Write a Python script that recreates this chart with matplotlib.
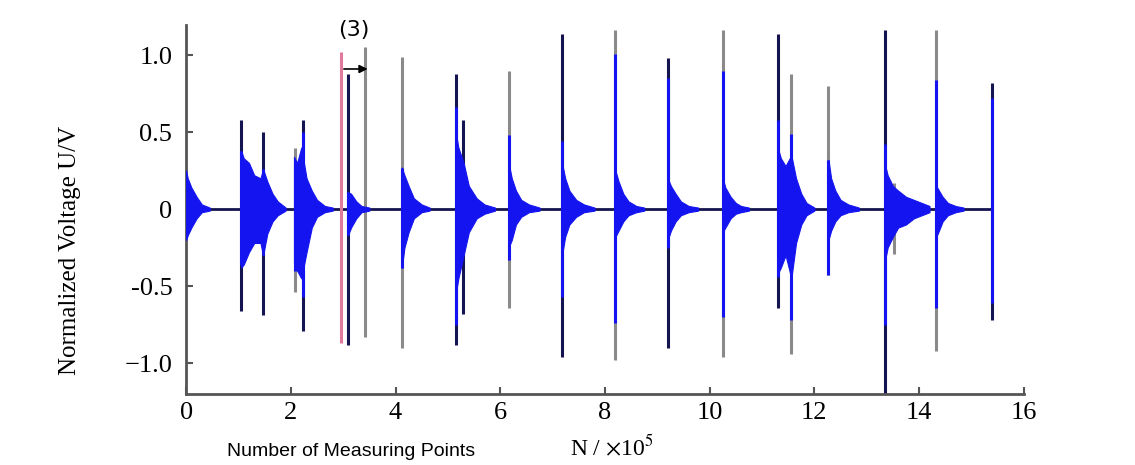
import matplotlib
matplotlib.use("Agg")
import matplotlib.pyplot as plt

matplotlib.rcParams['mathtext.fontset'] = 'stix'

# spikes: position (x1e5), outer trace extent + colour, inner blue trace extent
spike_x = [1.05, 1.47, 2.08, 2.23, 2.96, 3.09, 3.42, 4.12, 5.15, 5.29, 6.16, 7.18,
           8.20, 9.20, 10.25, 11.30, 11.56, 12.27, 13.34, 13.53, 14.33, 15.40]
spike_top = [0.58, 0.50, 0.40, 0.58, 1.02, 0.88, 1.05, 0.99, 0.88, 0.58, 0.90, 1.14,
             1.16, 0.98, 1.16, 1.14, 0.88, 0.80, 1.16, 0.17, 1.16, 0.82]
spike_bot = [-0.66, -0.69, -0.54, -0.79, -0.87, -0.88, -0.83, -0.90, -0.88, -0.68, -0.64, -0.96,
             -0.98, -0.90, -0.96, -0.64, -0.94, -0.43, -1.20, -0.29, -0.92, -0.72]
spike_kind = ['n', 'n', 'g', 'n', 'p', 'n', 'g', 'g', 'n', 'n', 'g', 'n',
              'g', 'n', 'g', 'n', 'g', 'g', 'n', 'g', 'g', 'n']
inner_top = [0.38, 0.26, 0.30, 0.50, 0.0, 0.11, 0.0, 0.27, 0.66, 0.30, 0.48, 0.44,
             1.01, 0.85, 0.90, 0.58, 0.49, 0.32, 0.42, 0.10, 0.84, 0.72]
inner_bot = [-0.36, -0.30, -0.40, -0.57, 0.0, -0.17, 0.0, -0.38, -0.75, -0.30, -0.33, -0.57,
             -0.74, -0.25, -0.70, -0.44, -0.72, -0.43, -0.75, -0.10, -0.64, -0.61]

# burst envelopes (decaying ringing after each hit)
blob_x = [
    [0.0, 0.03, 0.1, 0.2, 0.3, 0.45],
    [1.05, 1.1, 1.2, 1.3, 1.42, 1.47, 1.55, 1.65, 1.75, 1.9],
    [2.06, 2.12, 2.2, 2.3, 2.4, 2.5, 2.65, 2.8],
    [3.09, 3.15, 3.25, 3.35, 3.5],
    [4.12, 4.17, 4.25, 4.35, 4.5, 4.65],
    [5.15, 5.2, 5.3, 5.4, 5.55, 5.7, 5.9],
    [6.16, 6.22, 6.3, 6.4, 6.55, 6.75],
    [7.18, 7.24, 7.32, 7.45, 7.6, 7.8],
    [8.2, 8.26, 8.35, 8.45, 8.6, 8.75],
    [9.2, 9.26, 9.35, 9.45, 9.6, 9.78],
    [10.25, 10.3, 10.4, 10.5, 10.6, 10.75],
    [11.3, 11.36, 11.45, 11.56, 11.65, 11.75, 11.85, 12.0],
    [12.27, 12.32, 12.4, 12.5, 12.65, 12.85],
    [13.34, 13.4, 13.5, 13.6, 13.75, 13.9, 14.05, 14.2],
    [14.33, 14.38, 14.45, 14.55, 14.7, 14.85],
]
blob_up = [
    [0.25, 0.2, 0.14, 0.08, 0.03, 0.01],
    [0.38, 0.33, 0.3, 0.22, 0.2, 0.26, 0.18, 0.1, 0.05, 0.01],
    [0.34, 0.3, 0.4, 0.2, 0.12, 0.06, 0.02, 0.01],
    [0.11, 0.1, 0.05, 0.02, 0.01],
    [0.27, 0.22, 0.15, 0.07, 0.03, 0.01],
    [0.5, 0.4, 0.3, 0.15, 0.07, 0.03, 0.01],
    [0.3, 0.2, 0.12, 0.06, 0.03, 0.01],
    [0.3, 0.2, 0.12, 0.06, 0.03, 0.01],
    [0.25, 0.18, 0.1, 0.05, 0.02, 0.01],
    [0.2, 0.15, 0.1, 0.05, 0.02, 0.01],
    [0.2, 0.14, 0.08, 0.04, 0.02, 0.01],
    [0.4, 0.33, 0.28, 0.35, 0.2, 0.1, 0.04, 0.01],
    [0.32, 0.2, 0.12, 0.06, 0.03, 0.01],
    [0.3, 0.22, 0.15, 0.12, 0.08, 0.06, 0.04, 0.02],
    [0.15, 0.12, 0.08, 0.04, 0.02, 0.01],
]
blob_dn = [
    [-0.2, -0.17, -0.12, -0.06, -0.02, -0.01],
    [-0.38, -0.36, -0.28, -0.22, -0.22, -0.3, -0.16, -0.08, -0.04, -0.01],
    [-0.35, -0.4, -0.45, -0.28, -0.12, -0.05, -0.02, -0.01],
    [-0.17, -0.12, -0.06, -0.02, -0.01],
    [-0.38, -0.25, -0.15, -0.06, -0.02, -0.01],
    [-0.55, -0.45, -0.3, -0.15, -0.06, -0.03, -0.01],
    [-0.25, -0.2, -0.1, -0.05, -0.02, -0.01],
    [-0.3, -0.18, -0.1, -0.05, -0.02, -0.01],
    [-0.18, -0.14, -0.08, -0.04, -0.02, -0.01],
    [-0.2, -0.14, -0.08, -0.04, -0.02, -0.01],
    [-0.15, -0.12, -0.06, -0.03, -0.02, -0.01],
    [-0.42, -0.38, -0.3, -0.45, -0.22, -0.1, -0.04, -0.01],
    [-0.2, -0.14, -0.08, -0.04, -0.02, -0.01],
    [-0.35, -0.25, -0.18, -0.12, -0.1, -0.06, -0.04, -0.02],
    [-0.18, -0.14, -0.08, -0.04, -0.02, -0.01],
]
signal_span = [0.0, 15.4]

xticks = [0, 2, 4, 6, 8, 10, 12, 14, 16]
yticks = [-1.0, -0.5, 0, 0.5, 1.0]
ytick_labels = ['\u22121.0', '-0.5', '0', '0.5', '1.0']

kind_color = {'n': '#141450', 'g': '#8a8a8a', 'p': '#e07a9a'}
blue = '#1414f0'

fig = plt.figure(figsize=(11.35, 4.65), dpi=100)
ax = fig.add_axes([0.164, 0.153, 0.738, 0.793])

ax.plot(signal_span, [0, 0], color='#141450', lw=2, zorder=1)

for i in range(len(spike_x)):
    ax.vlines(spike_x[i], spike_bot[i], spike_top[i], color=kind_color[spike_kind[i]], lw=2.2, zorder=2)

for i in range(len(blob_x)):
    ax.fill_between(blob_x[i], blob_dn[i], blob_up[i], color=blue, lw=0.8, zorder=3)

for i in range(len(spike_x)):
    if inner_top[i] != inner_bot[i]:
        ax.vlines(spike_x[i], inner_bot[i], inner_top[i], color=blue, lw=2.2, zorder=4)

# marker for interval (3)
ax.annotate('', xy=(3.52, 0.91), xytext=(2.96, 0.91),
            arrowprops=dict(arrowstyle='-|>', color='black', lw=1.2, mutation_scale=12), zorder=5)
ax.text(3.2, 1.16, '(3)', fontsize=16, ha='center', va='center', family='DejaVu Sans', clip_on=False)

ax.set_xlim(0, 16)
ax.set_ylim(-1.2, 1.195)
ax.set_xticks(xticks)
ax.set_xticklabels([str(t) for t in xticks], family='Liberation Serif', fontsize=19)
ax.set_yticks(yticks)
ax.set_yticklabels(ytick_labels, family='Liberation Serif', fontsize=19)

for s in ['top', 'right']:
    ax.spines[s].set_visible(False)
for s in ['left', 'bottom']:
    ax.spines[s].set_color('#555555')
    ax.spines[s].set_linewidth(2)
ax.tick_params(direction='in', length=5, width=1.5, color='#555555')
ax.tick_params(axis='y', pad=10)
ax.tick_params(axis='x', pad=6)

ax.set_ylabel('Normalized Voltage U/V', family='Liberation Serif', fontsize=18)
ax.yaxis.set_label_coords(-0.126, 0.39)

fig.text(0.2, 0.01, 'Number of Measuring Points', family='Liberation Sans', fontsize=14, ha='left', va='bottom')
fig.text(0.502, 0.01, r'N / $\times$10$^{5}$', family='Liberation Serif', fontsize=17, ha='left', va='bottom')

plt.savefig('out.png', dpi=100)
